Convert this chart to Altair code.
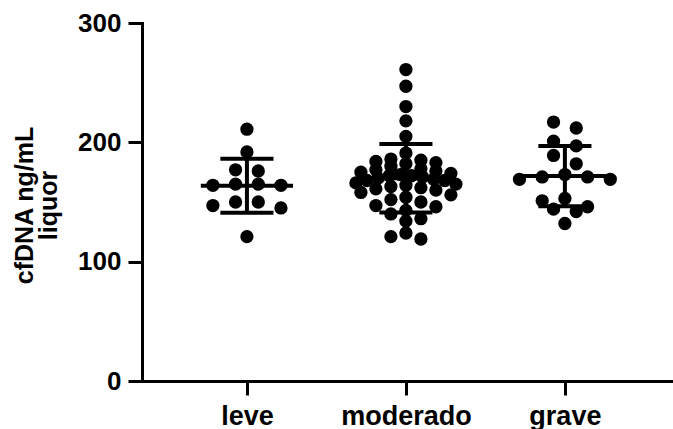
import altair as alt
import pandas as pd

# ---- data ----
groups = ["leve", "moderado", "grave"]
leve = [211, 192, 176, 177, 165, 164, 165, 164, 150, 150, 147, 145, 121]
moderado = [261, 247, 230, 218, 205, 191, 186, 185, 184, 183, 182, 180, 178,
            177, 176, 175, 174, 173, 172, 172, 171, 170, 169, 168, 168, 166,
            165, 164, 163, 162, 161, 160, 158, 156, 154, 152, 150, 147, 146,
            143, 140, 136, 134, 124, 121, 119]
grave = [212, 217, 197, 201, 189, 182, 169, 169, 171, 171, 173, 153, 151,
         146, 144, 142, 132]
y_ticks = [0, 100, 200, 300]

# ---- layout constants ----
W, H = 531, 358
X_DOM = [-0.66, 2.68]
Y_DOM = [0, 300]
STEP_PX = W / (X_DOM[1] - X_DOM[0])
PPU = H / (Y_DOM[1] - Y_DOM[0])
FONT = "Liberation Sans, Arial, sans-serif"


def swarm(values, row_px=10.0, max_half=50.0):
    """Column-scatter layout: bin points into rows, spread each row."""
    slot_px = 22.7 if len(values) < 30 else 15.0
    order = sorted(range(len(values)), key=lambda i: -values[i])
    rows = []
    for i in order:
        if rows and (values[rows[-1][0]] - values[i]) * PPU < row_px:
            rows[-1].append(i)
        else:
            rows.append([i])
    offs = [0.0] * len(values)
    for row in rows:
        n = len(row)
        step = slot_px
        if n > 1 and (n - 1) * step > 2 * max_half:
            step = 2 * max_half / (n - 1)
        slots = [(k - (n - 1) / 2) * step for k in range(n)]
        slots.sort(key=lambda s: (abs(s), s))
        for i, s in zip(row, slots):
            offs[i] = s
    return offs


records = []
for gi, (g, vals) in enumerate(zip(groups, [leve, moderado, grave])):
    for v, o in zip(vals, swarm(vals)):
        records.append({"group": g, "idx": gi, "value": v,
                        "xpos": gi + o / STEP_PX})
df = pd.DataFrame(records)

label_expr = "[" + ",".join("'%s'" % g for g in groups) + "][datum.value]"

xs = alt.Scale(domain=X_DOM, nice=False, zero=False)
ys = alt.Scale(domain=Y_DOM, nice=False)
xax = alt.Axis(values=[0, 1, 2], labelExpr=label_expr, title=None, grid=False,
               domainWidth=3, domainColor="black", tickWidth=3,
               tickColor="black", tickSize=14, labelFont=FONT,
               labelFontSize=27, labelFontWeight="bold", labelColor="black",
               labelPadding=29, labelBaseline="alphabetic", labelFlush=False,
               labelOverlap=False, domainCap="square")
yax = alt.Axis(values=y_ticks, title=["cfDNA ng/mL", "liquor"], grid=False,
               titleFont=FONT, titleFontSize=25, titleFontWeight="bold",
               titleColor="black", titleAngle=270, titleX=-130, titleY=182,
               titleAlign="center", titleBaseline="top", titleLineHeight=24,
               domainWidth=3, domainColor="black", tickWidth=3,
               tickColor="black", tickSize=14, labelFont=FONT,
               labelFontSize=26, labelFontWeight="bold", labelColor="black",
               labelPadding=7, labelFlush=False, domainCap="square")

points = alt.Chart(df).mark_circle(size=177, opacity=1, color="black").encode(
    x=alt.X("xpos:Q", scale=xs, axis=xax),
    y=alt.Y("value:Q", scale=ys, axis=yax),
)

stats = alt.Chart(df).transform_aggregate(
    m="mean(value)", sd="stdev(value)", groupby=["idx"]
).transform_calculate(
    lo="datum.m - datum.sd", hi="datum.m + datum.sd",
    mx1="datum.idx - 0.29", mx2="datum.idx + 0.29",
    cx1="datum.idx - 0.167", cx2="datum.idx + 0.167",
)
rule_kw = dict(strokeWidth=4, color="black", strokeCap="butt")

mean_rule = stats.mark_rule(**rule_kw).encode(
    x=alt.X("mx1:Q", scale=xs, axis=xax), x2="mx2:Q",
    y=alt.Y("m:Q", scale=ys, axis=yax))
sd_rule = stats.mark_rule(**rule_kw).encode(
    x=alt.X("idx:Q", scale=xs, axis=xax),
    y=alt.Y("lo:Q", scale=ys, axis=yax), y2="hi:Q")
cap_hi = stats.mark_rule(**rule_kw).encode(
    x=alt.X("cx1:Q", scale=xs, axis=xax), x2="cx2:Q",
    y=alt.Y("hi:Q", scale=ys, axis=yax))
cap_lo = stats.mark_rule(**rule_kw).encode(
    x=alt.X("cx1:Q", scale=xs, axis=xax), x2="cx2:Q",
    y=alt.Y("lo:Q", scale=ys, axis=yax))

chart = alt.layer(points, mean_rule, sd_rule, cap_hi, cap_lo).properties(
    width=W, height=H,
    autosize=alt.AutoSizeParams(type="none"),
    padding={"left": 142, "top": 23, "right": 0, "bottom": 48},
    background="white",
).configure_view(stroke=None)

chart.save("out.html", embed_options={"renderer": "svg", "actions": False})
